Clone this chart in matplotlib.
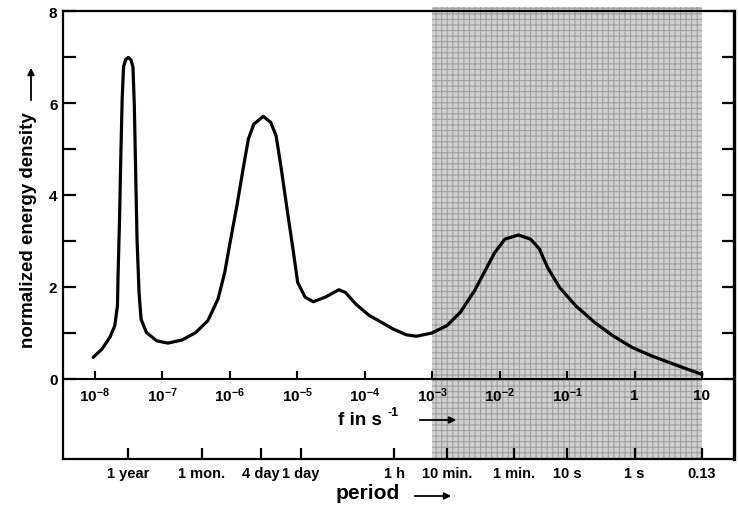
import numpy as np
import matplotlib
matplotlib.use("Agg")
import matplotlib.pyplot as plt
import matplotlib.ticker as mticker
from matplotlib.patches import Rectangle

plt.rcParams['font.family'] = ['Liberation Sans', 'DejaVu Sans']
plt.rcParams['font.weight'] = 'bold'
plt.rcParams['mathtext.fontset'] = 'custom'
plt.rcParams['mathtext.rm'] = 'Liberation Sans:bold'
plt.rcParams['mathtext.bf'] = 'Liberation Sans:bold'
plt.rcParams['mathtext.default'] = 'bf'
plt.rcParams['hatch.linewidth'] = 0.8

# ---- data ----
log_f = [-8.02, -7.89, -7.77, -7.70, -7.66, -7.65, -7.63, -7.61, -7.59, -7.57,
         -7.54, -7.50, -7.46, -7.43, -7.41, -7.39, -7.37, -7.34, -7.31, -7.23,
         -7.08, -6.91, -6.70, -6.50, -6.32, -6.17, -6.07, -6.00, -5.89, -5.79,
         -5.72, -5.64, -5.50, -5.39, -5.31, -5.24, -5.14, -5.06, -4.99, -4.88,
         -4.76, -4.58, -4.38, -4.28, -4.13, -3.93, -3.83, -3.58, -3.38, -3.23,
         -3.00, -2.78, -2.58, -2.37, -2.20, -2.07, -1.92, -1.72, -1.54, -1.41,
         -1.29, -1.11, -0.87, -0.59, -0.32, -0.04, 0.24, 0.53, 0.81, 1.00]
energy = [0.47, 0.65, 0.91, 1.16, 1.59, 2.32, 3.41, 4.85, 6.09, 6.78,
          6.94, 6.99, 6.94, 6.78, 5.94, 4.49, 3.04, 1.88, 1.30, 1.01,
          0.83, 0.78, 0.85, 1.01, 1.27, 1.74, 2.32, 2.90, 3.77, 4.64,
          5.22, 5.54, 5.71, 5.58, 5.29, 4.64, 3.62, 2.83, 2.10, 1.78,
          1.68, 1.78, 1.94, 1.88, 1.63, 1.38, 1.30, 1.09, 0.96, 0.93,
          1.00, 1.16, 1.45, 1.92, 2.39, 2.75, 3.04, 3.13, 3.04, 2.83,
          2.43, 1.99, 1.59, 1.23, 0.94, 0.69, 0.51, 0.35, 0.20, 0.10]

freq_ticks = [1e-8, 1e-7, 1e-6, 1e-5, 1e-4, 1e-3, 1e-2, 1e-1, 1, 10]
freq_labels = [r'$10^{-8}$', r'$10^{-7}$', r'$10^{-6}$', r'$10^{-5}$', r'$10^{-4}$',
               r'$10^{-3}$', r'$10^{-2}$', r'$10^{-1}$', '1', '10']

period_freqs = [10**-7.50, 10**-6.41, 10**-5.54, 10**-4.94, 10**-3.56,
                10**-2.78, 10**-1.78, 0.1, 1, 10]
period_labels = ['1 year', '1 mon.', '4 day', '1 day', '1 h',
                 '10 min.', '1 min.', '10 s', '1 s', '0.13']

y_major = [0, 2, 4, 6, 8]
y_minor = [1, 3, 5, 7]

shade_range = [1e-3, 10]

# ---- figure ----
W, H = 738, 506
fig = plt.figure(figsize=(W / 100, H / 100), dpi=100)
L, R, T, B = 63, 734, 12, 460
ax = fig.add_axes([L / W, 1 - B / H, (R - L) / W, (B - T) / H])

px_per_dec = 67.5
x0_px = 94.5
ax.set_xscale('log')
ax.set_xlim(10 ** (-8 - (x0_px - L) / px_per_dec), 10 ** (-8 + (R - x0_px) / px_per_dec))
ypx = 46.0
y0_px = 380
ax.set_ylim(-(B - y0_px) / ypx, (y0_px - T) / ypx)

# shaded region
ybot = ax.get_ylim()[0]
shade = Rectangle((shade_range[0], ybot), shade_range[1] - shade_range[0], 8.09 - ybot,
                  facecolor='#d0d0d0', edgecolor='#a0a0a0', linewidth=0,
                  hatch='+++', clip_on=False, zorder=0)
ax.add_patch(shade)

# zero line and frequency ticks
ax.axhline(0, color='black', lw=1.5, zorder=2)
ax.vlines(freq_ticks, 0, 0.17, color='black', lw=1.5, zorder=2)
for f, lab in zip(freq_ticks, freq_labels):
    ax.text(f, -0.34, lab, ha='center', va='center', fontsize=11,
            fontweight='bold', zorder=3)

# curve
ax.plot(10 ** np.array(log_f), energy, color='black', lw=2.3,
        solid_joinstyle='round', solid_capstyle='round', zorder=4)

# axes styling
for s in ['left', 'top', 'bottom']:
    ax.spines[s].set_linewidth(1.6)
ax.spines['right'].set_linewidth(2.4)

ax.set_yticks(y_major)
ax.set_yticklabels([str(v) for v in y_major], fontsize=11, fontweight='bold')
ax.yaxis.set_minor_locator(mticker.FixedLocator(y_minor))
ax.tick_params(axis='y', which='both', direction='in', length=9, width=1.6,
               right=True, left=True, pad=4)

ax.set_xticks(period_freqs)
ax.set_xticklabels(period_labels, fontsize=10.5, fontweight='bold')
ax.xaxis.set_minor_locator(mticker.NullLocator())
ax.tick_params(axis='x', which='both', direction='in', length=8, width=1.6,
               top=False, bottom=True, pad=5)

# axis titles with arrows
fig.text(29 / W, 1 - 230 / H, 'normalized energy density', rotation=90,
         ha='center', va='center', fontsize=13.5, fontweight='bold')
ax.annotate('', xy=(31, H - 66), xytext=(31, H - 104), xycoords='figure pixels',
            textcoords='figure pixels',
            arrowprops=dict(arrowstyle='-|>', lw=1.3, color='black', mutation_scale=10))

fig.text(338 / W, 1 - 421 / H, 'f in s', ha='left', va='center',
         fontsize=13.5, fontweight='bold')
fig.text(387 / W, 1 - 413 / H, '-1', ha='left', va='center',
         fontsize=9, fontweight='bold')
ax.annotate('', xy=(459, H - 421), xytext=(417, H - 421), xycoords='figure pixels',
            textcoords='figure pixels',
            arrowprops=dict(arrowstyle='-|>', lw=1.3, color='black', mutation_scale=10))

fig.text(336 / W, 1 - 494 / H, 'period', ha='left', va='center',
         fontsize=15, fontweight='bold')
ax.annotate('', xy=(454, H - 497), xytext=(412, H - 497), xycoords='figure pixels',
            textcoords='figure pixels',
            arrowprops=dict(arrowstyle='-|>', lw=1.3, color='black', mutation_scale=10))

fig.savefig('out.png', dpi=100)
